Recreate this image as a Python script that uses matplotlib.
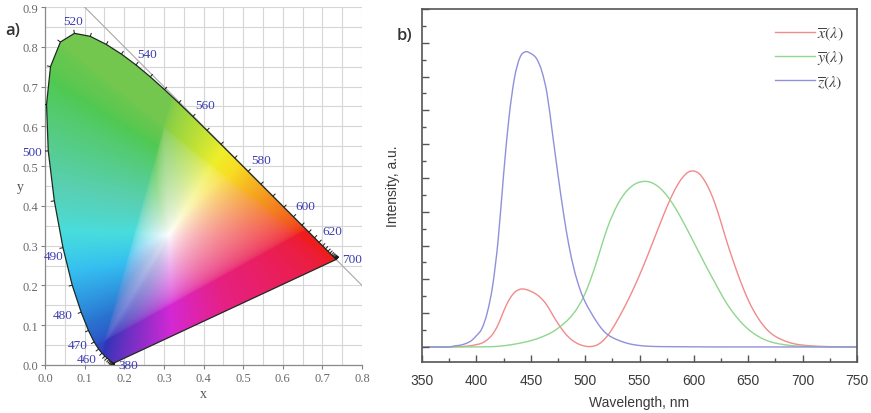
import numpy as np
import matplotlib
matplotlib.use("Agg")
import matplotlib.pyplot as plt
import matplotlib.colors as mcolors
from matplotlib.patches import Polygon, PathPatch
from matplotlib.path import Path
from matplotlib.lines import Line2D
from matplotlib.collections import LineCollection
from matplotlib.ticker import MultipleLocator, FormatStrFormatter, NullFormatter

# ---------------------------------------------------------------- data
# CIE 1931 spectral locus (chromaticity x, y), 380-700 nm in 5 nm steps
locus_nm = list(range(380, 705, 5))
locus_x = [0.1741, 0.1740, 0.1738, 0.1736, 0.1733, 0.1730, 0.1726, 0.1721, 0.1714, 0.1703,
           0.1689, 0.1669, 0.1644, 0.1611, 0.1566, 0.1510, 0.1440, 0.1355, 0.1241, 0.1096,
           0.0913, 0.0687, 0.0454, 0.0235, 0.0082, 0.0039, 0.0139, 0.0389, 0.0743, 0.1142,
           0.1547, 0.1929, 0.2296, 0.2658, 0.3016, 0.3374, 0.3731, 0.4087, 0.4441, 0.4788,
           0.5125, 0.5448, 0.5752, 0.6029, 0.6270, 0.6482, 0.6658, 0.6801, 0.6915, 0.7006,
           0.7079, 0.7140, 0.7190, 0.7230, 0.7260, 0.7283, 0.7300, 0.7311, 0.7320, 0.7327,
           0.7334, 0.7340, 0.7344, 0.7346, 0.7347]
locus_y = [0.0050, 0.0050, 0.0049, 0.0049, 0.0048, 0.0048, 0.0048, 0.0048, 0.0051, 0.0058,
           0.0069, 0.0086, 0.0109, 0.0138, 0.0177, 0.0227, 0.0297, 0.0399, 0.0578, 0.0868,
           0.1327, 0.2007, 0.2950, 0.4127, 0.5384, 0.6548, 0.7502, 0.8120, 0.8338, 0.8262,
           0.8059, 0.7816, 0.7543, 0.7243, 0.6923, 0.6589, 0.6245, 0.5896, 0.5547, 0.5202,
           0.4866, 0.4544, 0.4242, 0.3965, 0.3725, 0.3514, 0.3340, 0.3197, 0.3083, 0.2993,
           0.2920, 0.2859, 0.2809, 0.2770, 0.2740, 0.2717, 0.2700, 0.2689, 0.2680, 0.2673,
           0.2666, 0.2660, 0.2656, 0.2654, 0.2653]
locus_labels = [380, 460, 470, 480, 490, 500, 520, 540, 560, 580, 600, 620, 700]

# colour-matching functions, 350-750 nm in 5 nm steps (arbitrary units)
wavelength = list(range(350, 755, 5))
xbar = [0, 0, 0, 0, 0, 0,
        0.0013, 0.0022, 0.0042, 0.0075, 0.0140, 0.0227, 0.0426, 0.0761, 0.1317, 0.2105,
        0.2782, 0.3219, 0.3413, 0.3411, 0.3295, 0.3123, 0.2850, 0.2461, 0.1915, 0.1393,
        0.0937, 0.0568, 0.0314, 0.0144, 0.0048, 0.0024, 0.0091, 0.0285, 0.0620, 0.1074,
        0.1622, 0.2212, 0.2846, 0.3525, 0.4248, 0.5018, 0.5826, 0.6648, 0.7469, 0.8257,
        0.8980, 0.9590, 1.0058, 1.0356, 1.0410, 1.0247, 0.9825, 0.9196, 0.8374, 0.7364,
        0.6296, 0.5311, 0.4389, 0.3536, 0.2778, 0.2143, 0.1616, 0.1188, 0.0857, 0.0623,
        0.0458, 0.0322, 0.0222, 0.0155, 0.0111, 0.0079, 0.0057, 0.0040, 0.0028, 0.0020,
        0.0014, 0.0010, 0.0007, 0.0005, 0.0003]
ybar = [0, 0, 0, 0, 0, 0,
        0.0000, 0.0001, 0.0001, 0.0002, 0.0004, 0.0006, 0.0012, 0.0021, 0.0039, 0.0072,
        0.0114, 0.0165, 0.0225, 0.0292, 0.0372, 0.0470, 0.0588, 0.0724, 0.0892, 0.1103,
        0.1362, 0.1659, 0.2039, 0.2534, 0.3165, 0.3992, 0.4929, 0.5960, 0.6958, 0.7773,
        0.8448, 0.8966, 0.9349, 0.9607, 0.9751, 0.9800, 0.9751, 0.9590, 0.9330, 0.8971,
        0.8526, 0.8000, 0.7419, 0.6810, 0.6184, 0.5555, 0.4929, 0.4324, 0.3734, 0.3146,
        0.2597, 0.2127, 0.1715, 0.1354, 0.1049, 0.0800, 0.0598, 0.0437, 0.0314, 0.0227,
        0.0167, 0.0117, 0.0080, 0.0056, 0.0040, 0.0029, 0.0020, 0.0015, 0.0010, 0.0007,
        0.0005, 0.0004, 0.0002, 0.0002, 0.0001]
zbar = [0, 0, 0, 0, 0, 0,
        0.0063, 0.0103, 0.0196, 0.0355, 0.0665, 0.1080, 0.2033, 0.3639, 0.6327, 1.0183,
        1.3579, 1.5905, 1.7121, 1.7469, 1.7367, 1.7092, 1.6358, 1.4975, 1.2619, 1.0211,
        0.7967, 0.6039, 0.4559, 0.3462, 0.2666, 0.2081, 0.1550, 0.1095, 0.0767, 0.0561,
        0.0413, 0.0292, 0.0199, 0.0131, 0.0086, 0.0056, 0.0038, 0.0027, 0.0021, 0.0018,
        0.0016, 0.0014, 0.0011, 0.0010, 0.0008, 0.0006, 0.0003, 0.0002, 0.0002, 0.0001,
        0, 0, 0, 0, 0, 0, 0, 0, 0, 0,
        0, 0, 0, 0, 0, 0, 0, 0, 0, 0,
        0, 0, 0, 0, 0]
cmf_labels = [r"$\overline{x}(\lambda)$", r"$\overline{y}(\lambda)$", r"$\overline{z}(\lambda)$"]
cmf_colors = ["#f28a8a", "#8fd68f", "#9090dc"]


def spline_path(xs, ys):
    """Smooth Catmull-Rom connector through the given points, as Bezier segments."""
    xs = np.asarray(xs, float)
    ys = np.asarray(ys, float)
    n = len(xs)
    verts = [(xs[0], ys[0])]
    codes = [Path.MOVETO]
    for i in range(n - 1):
        a = max(i - 1, 0)
        d = min(i + 2, n - 1)
        c1 = (xs[i] + (xs[i + 1] - xs[a]) / 6, ys[i] + (ys[i + 1] - ys[a]) / 6)
        c2 = (xs[i + 1] - (xs[d] - xs[i]) / 6, ys[i + 1] - (ys[d] - ys[i]) / 6)
        verts += [c1, c2, (xs[i + 1], ys[i + 1])]
        codes += [Path.CURVE4] * 3
    return Path(verts, codes)


# ---------------------------------------------------------------- figure
plt.rcParams["mathtext.fontset"] = "stix"
fig = plt.figure(figsize=(8.71, 4.14), dpi=100)
W, H = 871.0, 414.0

# ======================= a) chromaticity diagram
ax1 = fig.add_axes([45 / W, 1 - 366 / H, 317 / W, 358 / H])
ax1.set_xlim(0, 0.8)
ax1.set_ylim(0, 0.9)

serif = "Liberation Serif"
ax1.xaxis.set_major_locator(MultipleLocator(0.1))
ax1.yaxis.set_major_locator(MultipleLocator(0.1))
ax1.xaxis.set_minor_locator(MultipleLocator(0.05))
ax1.yaxis.set_minor_locator(MultipleLocator(0.05))
ax1.xaxis.set_major_formatter(FormatStrFormatter("%.1f"))
ax1.yaxis.set_major_formatter(FormatStrFormatter("%.1f"))
ax1.grid(which="both", color="#d6d6d6", lw=0.8, zorder=0)
ax1.set_axisbelow(True)
ax1.tick_params(which="major", direction="out", length=3, width=0.8, color="#808080",
                labelsize=9, labelcolor="#6a6a6a", pad=2)
ax1.tick_params(which="minor", length=0)
for lab in ax1.get_xticklabels() + ax1.get_yticklabels():
    lab.set_fontfamily(serif)
for s in ("top", "right"):
    ax1.spines[s].set_visible(False)
for s in ("left", "bottom"):
    ax1.spines[s].set_color("#8a8a8a")
    ax1.spines[s].set_linewidth(0.9)
ax1.set_xlabel("x", fontfamily=serif, fontsize=10, color="#555555", labelpad=2)
ax1.set_ylabel("y", fontfamily=serif, fontsize=10, color="#555555", labelpad=1, rotation=0,
               va="center")

# colour field of the gamut: xyY (Y = 1) -> linear sRGB, clipped and normalised
lx = np.array(locus_x)
ly = np.array(locus_y)
gx, gy = np.meshgrid(np.linspace(0, 0.8, 500), np.linspace(0.001, 0.9, 560))
X = gx / gy
Z = (1 - gx - gy) / gy
M = np.array([[3.2406, -1.5372, -0.4986],
              [-0.9689, 1.8758, 0.0415],
              [0.0557, -0.2040, 1.0570]])
rgb = np.einsum("ij,jkl->kli", M, np.stack([X, np.ones_like(X), Z]))
rgb = np.clip(rgb, 0, None)
rgb = rgb / rgb.max(axis=2, keepdims=True)
rgb = np.clip(rgb ** (1 / 2.2), 0, 1)

# soften the palette toward printed-ink tones, hue by hue
hsv = mcolors.rgb_to_hsv(rgb)
hue = hsv[..., 0] * 360
sat = hsv[..., 1]
hue_in = [0, 47, 120, 137, 166, 193, 215, 259, 321, 360]
hue_out = [0, 52, 102, 112, 166, 196, 214, 245, 330, 360]
sat_fac = [0.88, 0.86, 0.60, 0.60, 0.57, 0.78, 0.80, 0.72, 0.86, 0.88]
val_fac = [0.93, 0.97, 0.68, 0.68, 0.72, 0.93, 0.78, 0.65, 0.89, 0.93]
hsv[..., 0] = (np.interp(hue, hue_in, hue_out) % 360) / 360
hsv[..., 1] = sat * np.interp(hue, hue_in, sat_fac)
hsv[..., 2] = 1 - (1 - np.interp(hue, hue_in, val_fac)) * sat ** 0.75
rgb = mcolors.hsv_to_rgb(np.clip(hsv, 0, 1))

img = ax1.imshow(rgb, extent=[0, 0.8, 0.001, 0.9], origin="lower", aspect="auto",
                 interpolation="bilinear", zorder=2)
gamut = Polygon(np.column_stack([lx, ly]), closed=True, transform=ax1.transData,
                facecolor="none", edgecolor="none")
ax1.add_patch(gamut)
img.set_clip_path(gamut)
ax1.plot(np.append(lx, lx[0]), np.append(ly, ly[0]), color="#1f2a1f", lw=0.9, zorder=3)

# line x + y = 1
ax1.axline((0, 1), slope=-1, color="#a8a8a8", lw=0.8, zorder=1)

# wavelength ticks on the locus
tx = np.gradient(lx)
ty = np.gradient(ly)
norm = np.hypot(tx, ty)
norm[norm == 0] = 1
nx, ny = -ty / norm, tx / norm
L = 0.009
segs = [[(a, b), (a + c * L, b + d * L)] for a, b, c, d in zip(lx, ly, nx, ny)]
ax1.add_collection(LineCollection(segs, colors="#1a1a1a", linewidths=0.7, zorder=4))

label_offsets = {380: (14, -2), 460: (-15, -6), 470: (-16, -3), 480: (-18, -3),
                 490: (-9, -8), 500: (-16, -1), 520: (-1, 12), 540: (11, 11),
                 560: (12, 12), 580: (13, 11), 600: (12, 11), 620: (13, 11), 700: (16, 0)}
for wl in locus_labels:
    i = locus_nm.index(wl)
    ax1.annotate(str(wl), (lx[i], ly[i]), xytext=label_offsets[wl], textcoords="offset pixels",
                 ha="center", va="center", fontsize=9.5, fontfamily=serif, color="#3c3cb0",
                 zorder=5, annotation_clip=False)

# ======================= b) colour-matching functions
ax2 = fig.add_axes([422 / W, 1 - 363 / H, 435 / W, 353 / H])
handles = []
for vals, lab, col in zip([xbar, ybar, zbar], cmf_labels, cmf_colors):
    ax2.add_patch(PathPatch(spline_path(wavelength, vals), fill=False, edgecolor=col, lw=1.0))
    handles.append(Line2D([], [], color=col, lw=1.0, label=lab))
ax2.set_xlim(350, 750)
ax2.set_ylim(-0.089, 2.0)
ax2.xaxis.set_major_locator(MultipleLocator(50))
ax2.xaxis.set_minor_locator(MultipleLocator(25))
ax2.yaxis.set_major_locator(MultipleLocator(0.2))
ax2.yaxis.set_minor_locator(MultipleLocator(0.1))
ax2.yaxis.set_major_formatter(NullFormatter())
sans = "Liberation Sans"
ax2.tick_params(which="both", direction="in", color="#555555", width=1.0)
ax2.tick_params(which="major", length=5, labelsize=10, labelcolor="#3a3a3a", pad=8)
ax2.tick_params(which="minor", length=3)
for lab in ax2.get_xticklabels():
    lab.set_fontfamily(sans)
for s in ax2.spines.values():
    s.set_color("#555555")
    s.set_linewidth(1.2)
ax2.set_xlabel("Wavelength, nm", fontfamily=sans, fontsize=10, color="#3a3a3a", labelpad=6)
ax2.set_ylabel("Intensity, a.u.", fontfamily=sans, fontsize=10, color="#3a3a3a", labelpad=8)
leg = ax2.legend(handles=handles, loc="upper right",
                 bbox_to_anchor=((844 - 422) / 435, (363 - 26) / 353),
                 frameon=False, fontsize=11.5, handlelength=2.5, handletextpad=0.15,
                 labelspacing=0.4, borderpad=0, borderaxespad=0)
for t in leg.get_texts():
    t.set_color("#444444")

# panel letters
fig.text(5 / W, 1 - 31 / H, "a)", fontsize=12, fontweight="semibold", fontfamily="Open Sans",
         color="#333333", va="center", ha="left")
fig.text(397 / W, 1 - 36 / H, "b)", fontsize=12, fontweight="semibold", fontfamily="Open Sans",
         color="#333333", va="center", ha="left")

fig.savefig("out.png", dpi=100)
